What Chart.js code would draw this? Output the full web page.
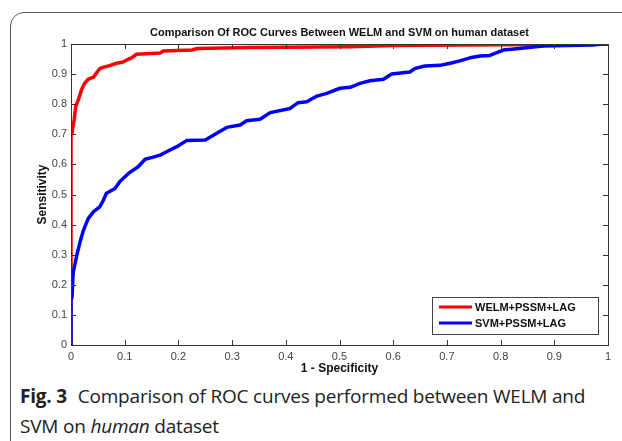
<!DOCTYPE html>
<html>
<head>
<meta charset="utf-8">
<script src="https://cdn.jsdelivr.net/npm/chart.js@4"></script>
<style>
  body { margin: 0; background: #fff; width: 622px; height: 441px; overflow: hidden; position: relative; }
  .frame { position: absolute; left: 10px; top: 12px; width: 700px; height: 520px;
           border: 1.5px solid #555; border-radius: 14px; }
  .plot { position: absolute; left: 0; top: 0; width: 622px; height: 380px; }
  .caption { position: absolute; left: 20px; top: 381px; width: 600px;
             font-family: "Open Sans", sans-serif; font-size: 19px; letter-spacing: -0.2px;
             line-height: 30px; color: #222; }
  .caption b { font-weight: 700; margin-right: 6px; }
</style>
</head>
<body>
<div class="frame"></div>
<div class="plot"><canvas id="roc"></canvas></div>
<div class="caption"><b>Fig. 3</b> Comparison of ROC curves performed between WELM and<br>SVM on <i>human</i> dataset</div>
<script>
const chartTitle = 'Comparison Of ROC Curves Between WELM and SVM on human dataset';
const seriesNames = ['WELM+PSSM+LAG', 'SVM+PSSM+LAG'];
const seriesColors = ['#ff0000', '#0000ff'];

// false positive rate / true positive rate
const welmFpr = [0, 0, 0.002, 0.006, 0.009, 0.014, 0.02, 0.026, 0.032, 0.042, 0.048, 0.054, 0.063, 0.073, 0.085, 0.097, 0.104, 0.113, 0.122, 0.166, 0.172, 0.225, 0.235, 0.33, 0.52, 0.6, 0.876, 1];
const welmTpr = [0, 0.70, 0.705, 0.75, 0.794, 0.816, 0.85, 0.871, 0.883, 0.89, 0.905, 0.919, 0.924, 0.929, 0.936, 0.94, 0.947, 0.954, 0.966, 0.97, 0.977, 0.98, 0.985, 0.988, 0.991, 0.995, 0.998, 1];

const svmFpr = [0, 0, 0.002, 0.004, 0.011, 0.018, 0.023, 0.032, 0.042, 0.054, 0.06, 0.066, 0.082, 0.091, 0.107, 0.125, 0.138, 0.153, 0.166, 0.178, 0.197, 0.215, 0.25, 0.277, 0.29, 0.315, 0.327, 0.352, 0.371, 0.408, 0.423, 0.439, 0.458, 0.476, 0.501, 0.52, 0.538, 0.557, 0.582, 0.597, 0.631, 0.641, 0.659, 0.687, 0.706, 0.724, 0.743, 0.762, 0.78, 0.793, 0.805, 0.83, 0.861, 0.88, 0.923, 0.972, 0.99, 1];
const svmTpr = [0, 0.15, 0.16, 0.24, 0.30, 0.35, 0.38, 0.42, 0.443, 0.46, 0.48, 0.504, 0.52, 0.543, 0.57, 0.592, 0.617, 0.624, 0.631, 0.642, 0.659, 0.679, 0.681, 0.709, 0.723, 0.731, 0.745, 0.75, 0.772, 0.786, 0.805, 0.808, 0.827, 0.836, 0.853, 0.856, 0.869, 0.878, 0.883, 0.9, 0.907, 0.919, 0.927, 0.929, 0.936, 0.944, 0.954, 0.96, 0.962, 0.971, 0.98, 0.984, 0.99, 0.993, 0.995, 0.997, 1, 1];

const xTickLabels = ['0', '0.1', '0.2', '0.3', '0.4', '0.5', '0.6', '0.7', '0.8', '0.9', '1'];
const yTickLabels = ['0', '0.1', '0.2', '0.3', '0.4', '0.5', '0.6', '0.7', '0.8', '0.9', '1'];

const toPoints = (xs, ys) => xs.map((x, i) => ({ x: x, y: ys[i] }));

// matlab style box, inward ticks, title and legend
const matlabBox = {
  id: 'matlabBox',
  afterDraw(chart) {
    const c = chart.ctx;
    const a = chart.chartArea;
    const xs = chart.scales.x, ys = chart.scales.y;
    c.save();
    c.strokeStyle = '#333';
    c.lineWidth = 1;
    c.strokeRect(a.left + 0.5, a.top + 0.5, a.right - a.left, a.bottom - a.top);
    c.beginPath();
    xs.ticks.forEach(t => {
      const px = Math.round(xs.getPixelForValue(t.value)) + 0.5;
      c.moveTo(px, a.bottom); c.lineTo(px, a.bottom - 5);
      c.moveTo(px, a.top); c.lineTo(px, a.top + 5);
    });
    ys.ticks.forEach(t => {
      const py = Math.round(ys.getPixelForValue(t.value)) + 0.5;
      c.moveTo(a.left, py); c.lineTo(a.left + 5, py);
      c.moveTo(a.right, py); c.lineTo(a.right - 5, py);
    });
    c.stroke();

    // title
    c.fillStyle = '#111';
    c.font = 'bold 11px "Liberation Sans", Arial, sans-serif';
    c.textAlign = 'center';
    c.textBaseline = 'middle';
    c.fillText(chartTitle, (a.left + a.right) / 2, 33);

    // legend box
    const bx = 432, by = 297, bw = 166, bh = 37;
    c.fillStyle = '#fff';
    c.fillRect(bx, by, bw, bh);
    c.strokeStyle = '#444';
    c.strokeRect(bx + 0.5, by + 0.5, bw, bh);
    c.textAlign = 'left';
    chart.data.datasets.slice().sort((p, q) => seriesNames.indexOf(p.label) - seriesNames.indexOf(q.label)).forEach((ds, i) => {
      const ly = by + 10 + i * 16;
      c.strokeStyle = ds.borderColor;
      c.lineWidth = 3;
      c.beginPath(); c.moveTo(bx + 7, ly); c.lineTo(bx + 40, ly); c.stroke();
      c.fillStyle = '#111';
      c.fillText(ds.label, bx + 43, ly + 1);
    });
    c.restore();
  }
};

new Chart(document.getElementById('roc'), {
  type: 'line',
  data: {
    datasets: [
      { label: seriesNames[1], data: toPoints(svmFpr, svmTpr), borderColor: seriesColors[1], order: 0 },
      { label: seriesNames[0], data: toPoints(welmFpr, welmTpr), borderColor: seriesColors[0], order: 1 }
    ]
  },
  options: {
    responsive: true,
    maintainAspectRatio: false,
    animation: false,
    layout: { padding: { left: 31, right: 14, top: 44, bottom: 0 } },
    elements: {
      point: { radius: 0 },
      line: { borderWidth: 3.5, tension: 0, borderJoinStyle: 'round', borderCapStyle: 'round' }
    },
    plugins: { legend: { display: false }, tooltip: { enabled: false } },
    scales: {
      x: {
        type: 'linear', min: 0, max: 1,
        grid: { display: false, drawTicks: false },
        border: { display: false },
        ticks: {
          stepSize: 0.1, padding: 5, color: '#444',
          font: { family: '"Liberation Sans", Arial, sans-serif', size: 11 },
          maxRotation: 0, autoSkip: false,
          callback: (v) => xTickLabels[Math.round(v * 10)]
        },
        title: { display: true, text: '1 - Specificity', color: '#111', padding: 4,
                 font: { family: '"Liberation Sans", Arial, sans-serif', size: 12, weight: 'bold' } },
        afterFit: (s) => { s.height = 35; }
      },
      y: {
        type: 'linear', min: 0, max: 1,
        grid: { display: false, drawTicks: false },
        border: { display: false },
        ticks: {
          stepSize: 0.1, padding: 4, color: '#444',
          font: { family: '"Liberation Sans", Arial, sans-serif', size: 11 },
          autoSkip: false,
          callback: (v) => yTickLabels[Math.round(v * 10)]
        },
        title: { display: true, text: 'Sensitivity', color: '#111', padding: 4,
                 font: { family: '"Liberation Sans", Arial, sans-serif', size: 12, weight: 'bold' } },
        afterFit: (s) => { s.width = 40; }
      }
    }
  },
  plugins: [matlabBox]
});
</script>
</body>
</html>
